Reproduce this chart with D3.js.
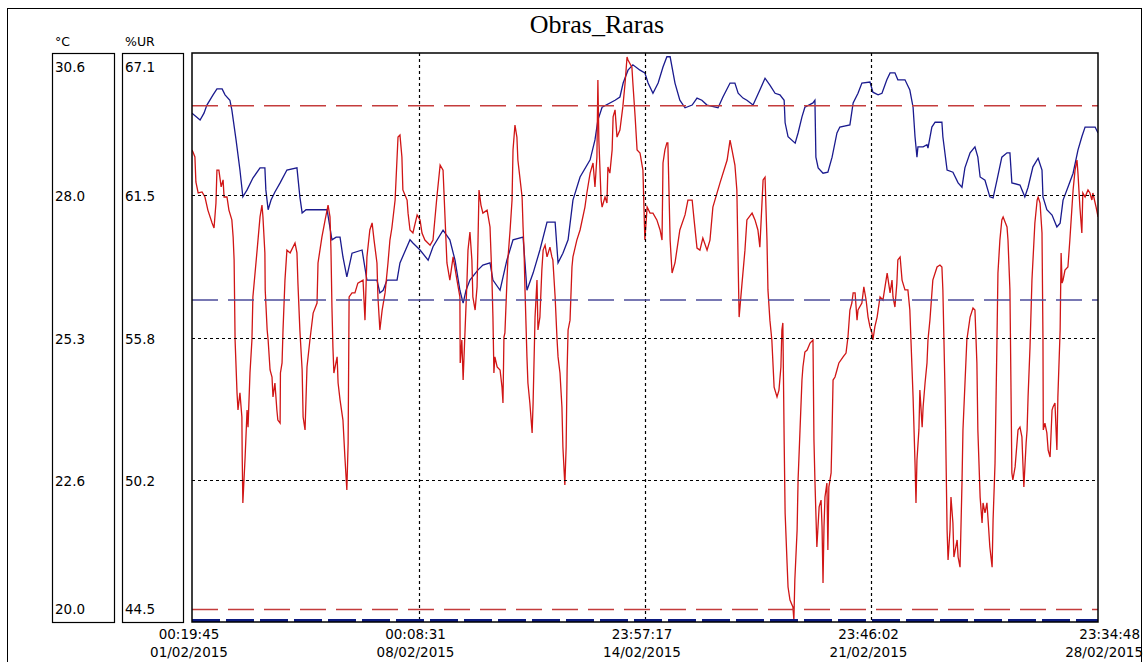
<!DOCTYPE html>
<html><head><meta charset="utf-8">
<script src="https://cdn.jsdelivr.net/npm/d3@7/dist/d3.min.js"></script>
<style>body{margin:0;background:#fff} svg{display:block}</style>
</head><body>
<svg id="c" width="1145" height="662"></svg>
<script>
// ---------- data ----------
const chartTitle = "Obras_Raras";
const tempUnit = "°C";
const humUnit = "%UR";
const tempTickValues = [20.0, 22.65, 25.3, 27.95, 30.6];
const tempTickLabels = ["20.0", "22.6", "25.3", "28.0", "30.6"];
const humTickValues = [44.5, 50.15, 55.8, 61.45, 67.1];
const humTickLabels = ["44.5", "50.2", "55.8", "61.5", "67.1"];
const timeTickClock = ["00:19:45", "00:08:31", "23:57:17", "23:46:02", "23:34:48"];
const timeTickDate = ["01/02/2015", "08/02/2015", "14/02/2015", "21/02/2015", "28/02/2015"];
const humLimits = [45, 65];      // red dashed
const tempLimits = [26, 20];     // blue dashed
// [days since first sample, °C]
const tempSeries = [[0.00,29.48],[0.25,29.35],[0.37,29.48],[0.46,29.63],[0.65,29.82],[0.77,29.93],[0.93,29.93],[1.02,29.82],[1.17,29.72],[1.23,29.54],[1.36,28.98],[1.48,28.42],[1.57,27.92],[1.70,28.05],[1.88,28.27],[2.10,28.46],[2.25,28.46],[2.28,28.05],[2.35,27.68],[2.44,27.86],[2.56,28.01],[2.72,28.18],[2.93,28.42],[3.24,28.46],[3.33,27.92],[3.40,27.62],[3.52,27.68],[4.17,27.68],[4.32,27.12],[4.45,27.17],[4.57,27.17],[4.66,26.80],[4.78,26.43],[4.94,26.87],[5.25,26.93],[5.40,26.37],[5.71,26.37],[5.80,26.13],[5.90,26.18],[6.02,26.37],[6.33,26.37],[6.42,26.69],[6.73,27.12],[6.82,27.06],[7.04,26.93],[7.29,26.74],[7.44,26.99],[7.75,27.30],[7.96,27.12],[8.12,26.74],[8.27,26.18],[8.37,25.94],[8.46,26.18],[8.58,26.37],[8.83,26.56],[8.98,26.65],[9.20,26.69],[9.29,26.37],[9.51,26.18],[9.72,26.74],[9.91,27.12],[10.22,27.17],[10.28,26.69],[10.34,26.18],[10.53,26.50],[10.74,26.93],[10.96,27.45],[11.21,27.45],[11.30,26.69],[11.45,26.87],[11.61,27.12],[11.76,27.86],[11.98,28.29],[12.29,28.61],[12.44,28.98],[12.53,29.35],[12.66,29.59],[13.06,29.72],[13.21,29.78],[13.31,30.04],[13.46,30.28],[13.61,30.38],[13.83,30.28],[13.98,30.23],[14.08,30.04],[14.23,29.85],[14.39,30.04],[14.54,30.34],[14.66,30.53],[14.76,30.53],[14.91,30.04],[15.06,29.72],[15.22,29.58],[15.44,29.63],[15.59,29.76],[15.74,29.72],[15.90,29.63],[16.24,29.58],[16.39,29.78],[16.61,30.04],[16.76,30.04],[16.86,29.85],[17.01,29.76],[17.13,29.72],[17.32,29.63],[17.53,29.91],[17.69,30.13],[17.84,30.00],[18.00,29.85],[18.15,29.82],[18.28,29.72],[18.31,29.30],[18.40,29.04],[18.62,28.92],[18.71,29.11],[18.83,29.41],[18.92,29.59],[19.17,29.67],[19.23,29.72],[19.26,28.66],[19.33,28.46],[19.48,28.36],[19.63,28.38],[19.76,28.66],[19.91,29.11],[20.00,29.22],[20.31,29.26],[20.41,29.67],[20.56,29.85],[20.68,30.04],[20.93,30.06],[21.02,29.87],[21.18,29.82],[21.30,29.85],[21.45,30.10],[21.55,30.23],[21.70,30.23],[21.79,30.10],[22.01,30.10],[22.16,29.91],[22.26,29.59],[22.32,29.04],[22.38,28.66],[22.41,28.85],[22.57,28.85],[22.69,28.89],[22.72,28.83],[22.84,29.22],[22.94,29.31],[23.15,29.31],[23.18,29.04],[23.31,28.42],[23.49,28.38],[23.65,28.18],[23.77,28.10],[23.86,28.46],[24.02,28.74],[24.17,28.85],[24.26,28.66],[24.33,28.29],[24.48,28.23],[24.63,27.92],[24.73,27.90],[24.85,28.23],[25.00,28.66],[25.16,28.74],[25.25,28.74],[25.31,28.18],[25.56,28.14],[25.71,27.92],[25.81,28.10],[25.96,28.48],[26.12,28.64],[26.24,28.42],[26.27,27.92],[26.39,27.68],[26.55,27.58],[26.70,27.36],[26.80,27.43],[26.89,27.86],[27.04,28.10],[27.20,28.36],[27.35,28.79],[27.47,29.04],[27.57,29.22],[27.88,29.22],[27.97,29.11]];
// [days since first sample, %UR]
const humSeries = [[0.00,63.25],[0.03,63.17],[0.09,62.97],[0.12,61.98],[0.19,61.54],[0.31,61.58],[0.40,61.38],[0.49,60.86],[0.62,60.35],[0.68,60.15],[0.74,61.14],[0.77,62.45],[0.83,62.45],[0.90,61.78],[0.96,62.06],[0.99,61.38],[1.08,61.38],[1.14,60.86],[1.23,60.47],[1.27,59.79],[1.30,58.88],[1.33,55.70],[1.39,53.60],[1.42,52.92],[1.48,53.60],[1.54,52.64],[1.55,51.05],[1.57,49.23],[1.64,51.05],[1.70,52.92],[1.73,52.24],[1.79,54.39],[1.85,55.70],[1.88,57.41],[2.01,59.27],[2.10,60.59],[2.16,61.06],[2.19,60.59],[2.25,59.16],[2.26,57.69],[2.32,56.10],[2.35,55.70],[2.41,54.51],[2.47,54.23],[2.50,53.44],[2.56,53.99],[2.62,52.92],[2.65,52.52],[2.72,52.40],[2.73,54.39],[2.78,54.79],[2.81,56.10],[2.87,58.08],[2.93,59.27],[3.03,59.16],[3.18,59.55],[3.24,59.16],[3.27,57.96],[3.33,56.10],[3.40,54.51],[3.43,52.64],[3.49,52.13],[3.55,54.63],[3.64,55.70],[3.74,56.77],[3.86,57.17],[3.89,58.76],[4.01,59.79],[4.11,60.47],[4.20,61.06],[4.26,60.59],[4.29,59.27],[4.32,57.01],[4.35,55.42],[4.38,54.39],[4.48,55.03],[4.51,53.99],[4.57,53.32],[4.66,52.52],[4.72,51.05],[4.78,49.74],[4.82,51.61],[4.85,57.41],[4.94,57.57],[5.03,57.57],[5.12,57.96],[5.28,58.08],[5.34,56.49],[5.40,59.00],[5.49,60.07],[5.56,60.35],[5.62,59.67],[5.71,58.76],[5.74,57.41],[5.80,56.10],[5.87,56.89],[5.96,57.57],[6.05,58.76],[6.11,59.67],[6.17,60.15],[6.27,61.26],[6.36,63.76],[6.42,63.84],[6.48,62.97],[6.51,61.66],[6.64,61.26],[6.67,60.74],[6.73,60.07],[6.82,59.95],[6.95,60.67],[7.04,60.47],[7.10,59.95],[7.19,59.67],[7.35,59.47],[7.44,59.67],[7.56,61.38],[7.66,62.65],[7.75,62.45],[7.84,59.67],[7.87,58.76],[7.96,58.08],[8.06,59.00],[8.18,58.08],[8.27,57.41],[8.28,54.79],[8.33,55.70],[8.37,54.11],[8.43,56.10],[8.49,58.08],[8.52,59.27],[8.58,59.99],[8.64,58.88],[8.67,57.41],[8.74,56.89],[8.80,57.81],[8.83,59.67],[8.86,61.66],[8.92,61.06],[8.98,60.74],[9.11,60.86],[9.20,60.19],[9.26,58.08],[9.29,56.61],[9.32,54.39],[9.35,55.03],[9.42,54.63],[9.51,54.51],[9.57,53.83],[9.60,53.20],[9.63,55.82],[9.66,55.98],[9.72,57.96],[9.75,58.88],[9.82,60.07],[9.88,61.26],[9.91,63.25],[9.97,64.24],[10.03,63.76],[10.06,62.85],[10.13,62.06],[10.19,61.38],[10.22,60.19],[10.25,59.27],[10.28,57.69],[10.34,55.03],[10.37,53.99],[10.43,53.20],[10.50,52.01],[10.53,53.20],[10.59,56.61],[10.65,58.08],[10.68,56.10],[10.74,56.61],[10.80,58.48],[10.84,59.27],[10.90,59.47],[10.96,59.00],[11.05,59.39],[11.11,59.00],[11.14,58.88],[11.21,57.41],[11.27,55.70],[11.30,55.03],[11.36,54.39],[11.42,53.04],[11.45,51.45],[11.51,49.94],[11.55,51.45],[11.58,54.51],[11.61,56.10],[11.67,56.49],[11.73,58.60],[11.76,59.00],[11.88,59.67],[11.98,60.07],[12.13,60.98],[12.19,61.54],[12.29,62.33],[12.38,62.73],[12.44,61.78],[12.50,62.97],[12.53,66.03],[12.56,63.64],[12.63,61.26],[12.66,60.98],[12.75,61.38],[12.81,61.14],[12.84,62.57],[12.90,62.33],[12.97,63.25],[13.00,64.56],[13.06,64.84],[13.12,63.76],[13.21,64.04],[13.30,64.96],[13.37,65.91],[13.43,66.94],[13.46,66.82],[13.58,66.54],[13.61,65.91],[13.68,64.56],[13.74,63.25],[13.83,63.13],[13.92,62.45],[13.98,59.67],[14.05,60.98],[14.14,60.74],[14.23,60.74],[14.35,60.47],[14.45,60.07],[14.51,59.67],[14.54,62.73],[14.60,63.25],[14.66,63.53],[14.69,63.53],[14.76,59.67],[14.82,58.36],[14.91,58.76],[15.06,60.07],[15.22,60.67],[15.31,61.26],[15.44,61.26],[15.50,60.47],[15.59,59.35],[15.68,59.27],[15.77,59.75],[15.90,59.27],[15.99,59.67],[16.08,60.98],[16.30,61.94],[16.52,62.85],[16.61,63.64],[16.67,63.25],[16.76,62.65],[16.82,61.66],[16.86,58.76],[16.89,56.61],[16.98,57.96],[17.07,59.27],[17.13,60.47],[17.29,60.74],[17.38,60.47],[17.47,60.07],[17.53,59.39],[17.63,62.06],[17.69,62.17],[17.75,59.67],[17.78,57.69],[17.84,56.49],[17.90,55.70],[17.97,53.83],[18.06,53.44],[18.12,53.71],[18.18,54.63],[18.21,56.10],[18.24,56.38],[18.28,51.73],[18.31,48.83],[18.37,46.84],[18.40,45.89],[18.46,45.37],[18.55,45.10],[18.58,44.58],[18.61,46.17],[18.68,48.15],[18.71,50.14],[18.77,52.13],[18.83,54.11],[18.86,54.63],[18.92,55.22],[18.99,55.30],[19.08,55.58],[19.17,55.70],[19.20,51.73],[19.23,50.14],[19.29,47.48],[19.36,49.07],[19.42,49.34],[19.45,48.27],[19.48,46.05],[19.51,48.27],[19.54,49.46],[19.60,50.02],[19.63,47.36],[19.66,49.86],[19.73,50.42],[19.76,52.13],[19.79,54.11],[19.85,54.23],[19.91,54.51],[19.97,54.79],[20.10,55.03],[20.19,55.18],[20.25,55.82],[20.31,56.89],[20.37,57.17],[20.41,57.57],[20.47,57.57],[20.53,56.49],[20.56,56.89],[20.68,57.17],[20.74,57.81],[20.81,57.29],[20.87,56.61],[20.93,56.22],[20.99,55.98],[21.02,55.70],[21.08,56.22],[21.15,56.61],[21.24,57.41],[21.33,57.29],[21.46,58.36],[21.55,57.57],[21.61,58.08],[21.64,57.41],[21.70,57.01],[21.76,57.96],[21.79,58.88],[21.86,59.00],[21.92,58.08],[22.01,57.69],[22.10,57.69],[22.16,56.89],[22.26,53.44],[22.32,50.81],[22.35,49.23],[22.38,50.93],[22.44,52.13],[22.47,53.71],[22.54,52.24],[22.57,53.04],[22.63,53.99],[22.69,54.79],[22.72,55.70],[22.78,56.49],[22.87,58.08],[23.00,58.60],[23.09,58.68],[23.15,58.60],[23.18,57.69],[23.25,53.44],[23.31,48.15],[23.34,46.96],[23.40,48.15],[23.43,49.46],[23.49,48.43],[23.52,47.08],[23.62,47.76],[23.65,47.08],[23.71,46.68],[23.77,50.02],[23.80,52.13],[23.92,55.70],[24.02,56.61],[24.11,56.97],[24.17,56.89],[24.23,54.79],[24.26,52.13],[24.33,49.46],[24.39,48.43],[24.42,49.23],[24.48,48.83],[24.54,49.23],[24.57,48.67],[24.63,47.48],[24.70,46.68],[24.73,48.55],[24.79,50.81],[24.85,55.70],[24.88,58.36],[24.94,59.67],[25.00,60.47],[25.04,60.59],[25.10,60.39],[25.16,60.19],[25.19,59.67],[25.25,57.69],[25.28,54.11],[25.31,50.42],[25.34,50.14],[25.41,50.66],[25.50,52.13],[25.56,52.24],[25.62,51.85],[25.65,50.81],[25.68,49.86],[25.75,51.61],[25.78,52.13],[25.81,53.44],[25.87,55.42],[25.93,58.08],[26.02,60.35],[26.09,61.26],[26.12,61.38],[26.18,61.14],[26.24,59.95],[26.27,55.70],[26.28,52.13],[26.33,52.40],[26.39,52.01],[26.43,51.33],[26.49,51.05],[26.55,52.92],[26.58,53.04],[26.64,53.20],[26.70,51.33],[26.73,53.44],[26.80,56.10],[26.83,59.16],[26.86,57.96],[26.89,58.08],[26.95,58.48],[27.04,58.60],[27.10,59.67],[27.20,61.66],[27.26,62.45],[27.32,62.85],[27.35,62.33],[27.41,60.98],[27.47,59.95],[27.50,61.54],[27.57,61.38],[27.66,61.66],[27.72,61.54],[27.78,61.26],[27.81,61.54],[27.91,60.98],[27.97,60.59]];

// ---------- layout ----------
const W = 1145, H = 662;
const plot = {x0: 192, x1: 1098, y0: 53, y1: 622};
const tBox = {x0: 52, x1: 114};
const hBox = {x0: 122, x1: 183};
const fontUI = "'DejaVu Sans', Verdana, sans-serif";

const svg = d3.select("#c");
svg.append("rect").attr("width", W).attr("height", H).attr("fill", "#fff");
// outer frame
svg.append("rect").attr("x", 7.5).attr("y", 8.5).attr("width", 1134).attr("height", 700)
  .attr("fill", "none").attr("stroke", "#000").attr("stroke-width", 1);

const parseT = d3.timeParse("%d/%m/%Y %H:%M:%S");
const tickDates = timeTickDate.map((d, i) => parseT(d + " " + timeTickClock[i]));
const t0 = tickDates[0];
const toDate = d => new Date(t0.getTime() + d * 864e5);

const x = d3.scaleTime().domain([tickDates[0], tickDates[tickDates.length - 1]]).range([plot.x0, plot.x1]);
const yT = d3.scaleLinear().domain([tempTickValues[0], tempTickValues[tempTickValues.length - 1]]).range([plot.y1, plot.y0]);
const yH = d3.scaleLinear().domain([humTickValues[0], humTickValues[humTickValues.length - 1]]).range([plot.y1, plot.y0]);

// title
svg.append("text").attr("x", 597).attr("y", 33).attr("text-anchor", "middle")
  .attr("font-family", "'Liberation Serif', 'Times New Roman', serif").attr("font-size", 26)
  .attr("fill", "#000").text(chartTitle);

// axis boxes
[tBox, hBox].forEach(b => {
  svg.append("rect").attr("x", b.x0 + 0.5).attr("y", plot.y0 + 0.5)
    .attr("width", b.x1 - b.x0).attr("height", plot.y1 - plot.y0)
    .attr("fill", "none").attr("stroke", "#000").attr("stroke-width", 1.2);
});
svg.append("text").attr("x", tBox.x0 + 3).attr("y", 46).attr("font-family", fontUI).attr("font-size", 12.5).text(tempUnit);
svg.append("text").attr("x", hBox.x0 + 3).attr("y", 46).attr("font-family", fontUI).attr("font-size", 12.5).text(humUnit);

function labelY(py) {
  return Math.max(plot.y0 + 19, Math.min(plot.y1 - 8, py + 6));
}
svg.append("g").selectAll("text").data(tempTickValues).join("text")
  .attr("x", tBox.x0 + 3).attr("y", d => labelY(yT(d)))
  .attr("font-family", fontUI).attr("font-size", 13.5).attr("fill", "#000")
  .text((d, i) => tempTickLabels[i]);
svg.append("g").selectAll("text").data(humTickValues).join("text")
  .attr("x", hBox.x0 + 3).attr("y", d => labelY(yH(d)))
  .attr("font-family", fontUI).attr("font-size", 13.5).attr("fill", "#000")
  .text((d, i) => humTickLabels[i]);

// time labels
const xl = svg.append("g");
tickDates.forEach((d, i) => {
  const last = i === tickDates.length - 1;
  const px = last ? 1143 : x(d) - 3;
  const anchor = last ? "end" : "middle";
  xl.append("text").attr("x", px - (last ? 3 : 0)).attr("y", 639).attr("text-anchor", anchor)
    .attr("font-family", fontUI).attr("font-size", 13.5).text(timeTickClock[i]);
  xl.append("text").attr("x", px).attr("y", 657).attr("text-anchor", anchor)
    .attr("font-family", fontUI).attr("font-size", 13.5).text(timeTickDate[i]);
});

// clip
svg.append("clipPath").attr("id", "pc").append("rect")
  .attr("x", plot.x0).attr("y", plot.y0).attr("width", plot.x1 - plot.x0).attr("height", plot.y1 - plot.y0);
const pg = svg.append("g").attr("clip-path", "url(#pc)");

// series
const lineT = d3.line().x(d => x(toDate(d[0]))).y(d => yT(d[1]));
const lineH = d3.line().x(d => x(toDate(d[0]))).y(d => yH(d[1]));
pg.append("path").datum(tempSeries).attr("d", lineT).attr("fill", "none")
  .attr("stroke", "#1a1a8e").attr("stroke-width", 1.3).attr("stroke-linejoin", "miter");
pg.append("path").datum(humSeries).attr("d", lineH).attr("fill", "none")
  .attr("stroke", "#d01515").attr("stroke-width", 1.3).attr("stroke-linejoin", "miter");

// grid (dotted)
const gridG = pg.append("g").attr("stroke", "#000").attr("stroke-width", 1.2).attr("stroke-dasharray", "3,3");
tickDates.slice(1, -1).forEach(d => {
  gridG.append("line").attr("x1", Math.round(x(d)) + 0.5).attr("x2", Math.round(x(d)) + 0.5)
    .attr("y1", plot.y0).attr("y2", plot.y1);
});
tempTickValues.slice(1, -1).forEach(v => {
  gridG.append("line").attr("x1", plot.x0).attr("x2", plot.x1)
    .attr("y1", Math.round(yT(v)) + 0.5).attr("y2", Math.round(yT(v)) + 0.5);
});

// limit lines
humLimits.forEach(v => {
  pg.append("line").attr("x1", plot.x0).attr("x2", plot.x1).attr("y1", yH(v)).attr("y2", yH(v))
    .attr("stroke", "#c43c3c").attr("stroke-width", 1.5).attr("stroke-dasharray", "26,10");
});
tempLimits.forEach((v, i) => {
  const low = v <= tempTickValues[0];
  const yy = low ? yT(v) - 1.5 : yT(v);
  pg.append("line").attr("x1", plot.x0).attr("x2", plot.x1).attr("y1", yy).attr("y2", yy)
    .attr("stroke", low ? "#0c1a80" : "#4c4c9a").attr("stroke-width", low ? 3 : 1.5)
    .attr("stroke-dasharray", low ? "28,6" : "26,10");
});

// plot frame
svg.append("rect").attr("x", plot.x0).attr("y", plot.y0)
  .attr("width", plot.x1 - plot.x0).attr("height", plot.y1 - plot.y0)
  .attr("fill", "none").attr("stroke", "#000").attr("stroke-width", 1.5);
</script>
</body></html>
